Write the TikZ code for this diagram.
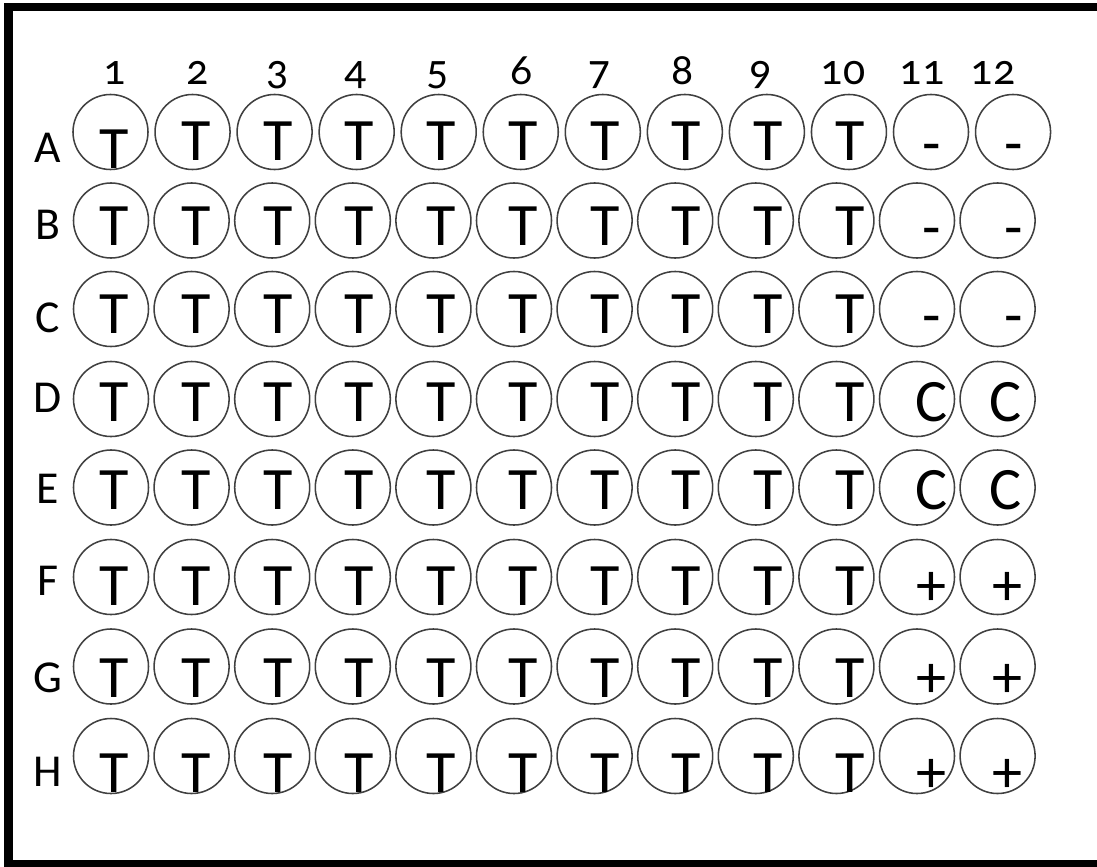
\documentclass[tikz,border=0pt]{standalone}
\usepackage{fontspec}
\setmainfont{Carlito}
\newfontfamily\numfont{Carlito}[Numbers=OldStyle]
\usepackage{tikz}

\begin{document}
\begin{tikzpicture}[x=0.025cm, y=-0.025cm,
  well/.style={draw=black!75, line width=1.1pt, circle, minimum size=1.875cm, inner sep=0pt},
  welltext/.style={anchor=base, inner sep=0pt, font=\fontsize{42.8}{50}\selectfont},
  rowlabel/.style={inner sep=0pt, font=\fontsize{32.5}{38}\selectfont},
  collabel/.style={anchor=base, inner sep=0pt, font=\numfont\fontsize{31}{36}\selectfont}]
\useasboundingbox (0,0) rectangle (1097,867);
\clip (0,0) rectangle (1097,867);
\draw[line width=5.7pt] (8.5,7) rectangle (1120,863.5);

% column numbers
\foreach \c/\x in {1/115, 2/198, 3/278, 4/356, 5/438, 6/522, 7/600, 8/683, 9/761, 10/843, 11/922, 12/993}
  \node[collabel] (col\c) at (\x,85) {\c};

% rows: letter / well y / text baseline / label y / text in 11-12 / shift in 12
\foreach \r/\y/\b/\l/\m/\s [count=\i] in {A/132/160/147.5/{\raisebox{-2.5pt}{-}}/0,
    B/220.5/245/225/{\raisebox{-1.5pt}{-}}/0, C/309/333/317.5/{\raisebox{-1.5pt}{-}}/0,
    D/399/421/398/C/-8, E/487.5/509/489/C/-8, F/577/605/581/+/-6, G/666.5/697/677.5/+/-6, H/756/792/771.7/+/-6} {
  \node[rowlabel] (row\r) at (48,\l) {\r};
  \pgfmathsetmacro\dx{ifthenelse(\i==1,82.05,80.6)}
  \pgfmathsetmacro\xo{ifthenelse(\i==1,110.5,111)}
  \foreach \c in {1,...,12} {
    \pgfmathsetmacro\cx{\xo+\dx*(\c-1)}
    \node[well] (w\r\c) at (\cx,\y) {};
    \pgfmathsetmacro\tx{114.5+81.7*(\c-1)+ifthenelse(\c==12,\s,0)}
    \pgfmathsetmacro\tb{ifthenelse(\i==1 && \c==1,168,\b)}
    \ifnum\c<11
      \node[welltext] (t\r\c) at (\tx,\tb) {T};
    \else
      \node[welltext] (t\r\c) at (\tx,\tb) {\m};
    \fi
  }
}
\end{tikzpicture}
\end{document}
